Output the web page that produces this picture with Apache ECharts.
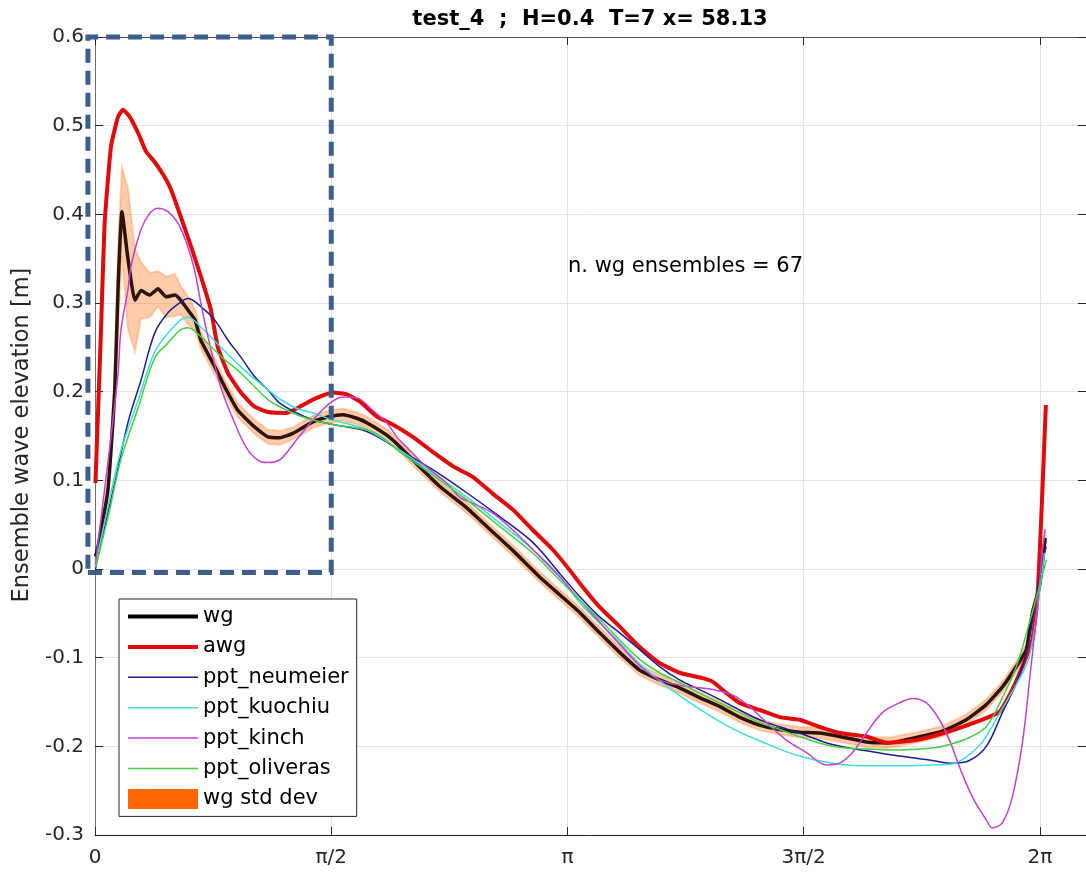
<!DOCTYPE html>
<html><head><meta charset="utf-8">
<script src="https://cdn.jsdelivr.net/npm/echarts@6/dist/echarts.min.js"></script>
<style>html,body{margin:0;padding:0;background:#fff}#c{width:1086px;height:873px}</style>
</head><body><div id="c"></div>
<script>
// ---- data (x in radians of phase, y in metres) ----
const xWg = [0.003,0.02,0.086,0.131,0.153,0.179,0.219,0.266,0.306,0.365,0.419,0.472,0.532,0.571,0.618,0.665,0.704,0.797,0.864,0.950,1.063,1.150,1.229,1.316,1.449,1.562,1.648,1.741,1.807,1.940,2.027,2.160,2.293,2.472,2.605,2.778,2.957,3.090,3.223,3.356,3.489,3.622,3.754,3.887,4.020,4.153,4.286,4.419,4.552,4.685,4.818,4.951,5.130,5.283,5.462,5.635,5.794,5.927,6.034,6.127,6.193,6.233,6.280,6.319];
const yWg = [0.014,0.025,0.089,0.200,0.315,0.403,0.350,0.303,0.314,0.309,0.316,0.307,0.309,0.303,0.292,0.281,0.258,0.228,0.205,0.179,0.160,0.149,0.148,0.153,0.166,0.172,0.174,0.170,0.165,0.151,0.138,0.115,0.093,0.069,0.048,0.021,-0.009,-0.029,-0.049,-0.072,-0.094,-0.114,-0.125,-0.134,-0.145,-0.155,-0.167,-0.176,-0.181,-0.184,-0.185,-0.189,-0.195,-0.196,-0.190,-0.183,-0.170,-0.153,-0.133,-0.110,-0.091,-0.050,-0.020,0.035];
const sdWg = [0.003,0.005,0.010,0.020,0.050,0.050,0.080,0.058,0.032,0.025,0.020,0.023,0.024,0.016,0.016,0.012,0.010,0.009,0.008,0.008,0.008,0.008,0.008,0.007,0.007,0.007,0.007,0.007,0.007,0.007,0.006,0.006,0.006,0.006,0.006,0.006,0.006,0.006,0.006,0.006,0.006,0.006,0.006,0.006,0.006,0.006,0.006,0.006,0.006,0.006,0.006,0.006,0.006,0.006,0.006,0.006,0.006,0.006,0.006,0.006,0.006,0.006,0.006,0.006];

const xAwg = [0.003,0.040,0.064,0.106,0.153,0.186,0.231,0.286,0.339,0.397,0.463,0.505,0.571,0.638,0.704,0.771,0.817,0.884,0.970,1.061,1.150,1.276,1.362,1.449,1.582,1.675,1.761,1.874,1.980,2.113,2.246,2.379,2.512,2.645,2.778,2.911,3.043,3.156,3.223,3.356,3.489,3.622,3.754,3.887,4.040,4.107,4.200,4.286,4.419,4.552,4.685,4.818,4.951,5.130,5.263,5.462,5.682,5.901,6.014,6.100,6.167,6.233,6.266,6.293,6.323];
const yAwg = [0.097,0.270,0.390,0.476,0.510,0.518,0.510,0.492,0.471,0.459,0.442,0.428,0.397,0.364,0.330,0.292,0.250,0.221,0.199,0.183,0.177,0.176,0.183,0.191,0.199,0.197,0.189,0.172,0.163,0.149,0.132,0.116,0.104,0.085,0.067,0.044,0.022,-0.001,-0.016,-0.043,-0.065,-0.088,-0.106,-0.117,-0.123,-0.127,-0.140,-0.151,-0.159,-0.167,-0.170,-0.178,-0.185,-0.189,-0.196,-0.193,-0.183,-0.170,-0.161,-0.136,-0.110,-0.080,-0.035,0.060,0.185];

const xNeu = [0.003,0.020,0.131,0.219,0.306,0.397,0.485,0.571,0.618,0.704,0.795,0.884,0.970,1.061,1.150,1.229,1.342,1.449,1.582,1.807,2.027,2.246,2.472,2.691,2.911,3.090,3.223,3.356,3.489,3.622,3.754,3.887,4.020,4.153,4.286,4.419,4.552,4.685,4.904,5.130,5.349,5.569,5.701,5.814,5.927,6.034,6.127,6.193,6.260,6.300,6.326];
const yNeu = [0.000,0.014,0.097,0.165,0.213,0.266,0.289,0.301,0.305,0.296,0.281,0.258,0.239,0.217,0.202,0.187,0.176,0.168,0.163,0.155,0.134,0.112,0.086,0.059,0.030,-0.005,-0.031,-0.054,-0.072,-0.091,-0.110,-0.125,-0.136,-0.147,-0.159,-0.170,-0.178,-0.185,-0.198,-0.205,-0.211,-0.216,-0.219,-0.216,-0.200,-0.162,-0.128,-0.095,-0.031,0.010,0.025];

const xKuo = [0.003,0.086,0.173,0.286,0.397,0.485,0.571,0.618,0.704,0.837,0.970,1.150,1.229,1.342,1.449,1.582,1.807,2.027,2.246,2.472,2.691,2.911,3.090,3.223,3.356,3.489,3.622,3.801,4.020,4.239,4.465,4.685,4.904,5.130,5.349,5.569,5.701,5.794,5.901,6.014,6.127,6.213,6.293,6.313];
const yKuo = [0.005,0.070,0.134,0.190,0.245,0.266,0.281,0.284,0.273,0.250,0.228,0.202,0.192,0.181,0.176,0.168,0.157,0.134,0.108,0.081,0.052,0.022,-0.008,-0.038,-0.061,-0.083,-0.107,-0.132,-0.158,-0.180,-0.197,-0.211,-0.219,-0.222,-0.222,-0.221,-0.220,-0.212,-0.195,-0.163,-0.130,-0.099,-0.010,0.018];

const xKin = [0.003,0.020,0.086,0.153,0.173,0.219,0.239,0.306,0.363,0.419,0.485,0.552,0.618,0.662,0.704,0.751,0.837,0.928,1.017,1.103,1.150,1.229,1.342,1.449,1.562,1.648,1.741,1.847,1.940,2.007,2.093,2.206,2.339,2.425,2.512,2.645,2.778,2.911,3.090,3.223,3.356,3.489,3.641,3.754,3.887,4.020,4.107,4.239,4.352,4.465,4.598,4.731,4.864,4.951,5.037,5.130,5.236,5.349,5.436,5.529,5.615,5.682,5.748,5.834,5.927,5.967,6.034,6.100,6.167,6.213,6.266,6.300,6.319];
const yKin = [0.003,0.030,0.120,0.220,0.270,0.315,0.341,0.383,0.401,0.407,0.403,0.390,0.363,0.337,0.300,0.262,0.205,0.165,0.134,0.121,0.120,0.123,0.146,0.168,0.187,0.194,0.193,0.179,0.165,0.149,0.134,0.115,0.097,0.081,0.074,0.063,0.044,0.022,-0.009,-0.035,-0.060,-0.085,-0.112,-0.125,-0.131,-0.134,-0.136,-0.142,-0.155,-0.173,-0.193,-0.207,-0.221,-0.219,-0.207,-0.185,-0.162,-0.151,-0.146,-0.151,-0.170,-0.193,-0.223,-0.257,-0.283,-0.292,-0.286,-0.257,-0.196,-0.128,-0.043,0.020,0.045];

const xOli = [0.003,0.086,0.173,0.286,0.397,0.485,0.571,0.618,0.704,0.837,0.970,1.150,1.229,1.342,1.449,1.582,1.807,1.914,2.027,2.246,2.472,2.691,2.911,3.070,3.223,3.356,3.489,3.622,3.754,3.887,4.020,4.153,4.286,4.419,4.552,4.685,4.904,5.130,5.349,5.569,5.701,5.814,5.927,6.034,6.127,6.213,6.280,6.326];
const yOli = [0.002,0.058,0.124,0.181,0.238,0.255,0.270,0.272,0.262,0.240,0.221,0.191,0.183,0.174,0.168,0.163,0.157,0.148,0.132,0.106,0.078,0.048,0.018,-0.009,-0.035,-0.057,-0.080,-0.102,-0.117,-0.128,-0.140,-0.151,-0.162,-0.173,-0.181,-0.189,-0.200,-0.203,-0.204,-0.202,-0.197,-0.190,-0.178,-0.145,-0.110,-0.061,-0.020,0.010];

const xTickLabels = ['0','\u03c0/2','\u03c0','3\u03c0/2','2\u03c0'];
const boxX = [-0.047, 1.571, 1.571, -0.047, -0.047];
const boxY = [-0.004, -0.004, 0.6, 0.6, -0.004];
const titleText = 'test_4  ;  H=0.4  T=7 x= 58.13';
const noteText = 'n. wg ensembles = 67';
const yName = 'Ensemble wave elevation [m]';

// ---- build ----
const pairs = (xs, ys) => xs.map((x, i) => [x, ys[i]]);
const FONT = 'DejaVu Sans';
const HALF = Math.PI / 2;

const chart = echarts.init(document.getElementById('c'), null, {renderer: 'canvas'});
const axisCommon = {
  type: 'value', min: 0, max: 6.59, interval: HALF,
  axisLine: {show: true, onZero: false, lineStyle: {color: '#262626', width: 1}},
  axisTick: {show: true, inside: true, length: 8, lineStyle: {color: '#262626'}},
  splitLine: {show: false}
};
const yCommon = {
  type: 'value', min: -0.3, max: 0.6, interval: 0.1,
  axisLine: {show: true, onZero: false, lineStyle: {color: '#262626', width: 1}},
  axisTick: {show: true, inside: true, length: 8, lineStyle: {color: '#262626'}},
  splitLine: {show: false}
};
const thin = (name, xs, ys, color) => ({
  name, type: 'line', data: pairs(xs, ys), showSymbol: false, symbol: 'none', smooth: 0.35,
  lineStyle: {color, width: 1.5}, itemStyle: {color}, z: 4
});

chart.setOption({
  animation: false,
  backgroundColor: '#fff',
  textStyle: {fontFamily: FONT},
  grid: {left: 95, right: -1, top: 37, bottom: 38, containLabel: false},
  xAxis: [
    Object.assign({}, axisCommon, {
      position: 'bottom',
      splitLine: {show: true, lineStyle: {color: '#e3e3e3', width: 1}},
      axisLabel: {show: true, margin: 13, fontSize: 20, color: '#262626', fontFamily: FONT,
        showMaxLabel: false,
        formatter: v => { const k = Math.round(v / HALF); return Math.abs(v - k * HALF) < 1e-6 ? (xTickLabels[k] || '') : ''; }}
    }),
    Object.assign({}, axisCommon, {position: 'top', axisLine: {show: true, onZero: false, lineStyle: {color: '#505050', width: 1}}, axisLabel: {show: false}})
  ],
  yAxis: [
    Object.assign({}, yCommon, {
      position: 'left',
      axisLine: {show: true, onZero: false, lineStyle: {color: '#707070', width: 1}},
      splitLine: {show: true, lineStyle: {color: '#e3e3e3', width: 1}},
      axisLabel: {show: true, margin: 11, fontSize: 20, color: '#262626', fontFamily: FONT,
        formatter: v => Math.abs(v) < 1e-9 ? '0' : v.toFixed(1)}
    }),
    Object.assign({}, yCommon, {position: 'right', axisLabel: {show: false}})
  ],
  legend: {
    orient: 'vertical', left: 119, top: 599,
    padding: [7, 8, 7, 7], itemGap: 9.4, itemWidth: 70, itemHeight: 20,
    backgroundColor: '#fff', borderColor: '#262626', borderWidth: 1, borderRadius: 0,
    textStyle: {fontSize: 21, color: '#000', fontFamily: FONT},
    itemStyle: {opacity: 0},
    data: [
      {name: 'wg', lineStyle: {color: '#000', width: 4}},
      {name: 'awg', lineStyle: {color: '#e00a0a', width: 4}},
      {name: 'ppt_neumeier', lineStyle: {width: 1.5}},
      {name: 'ppt_kuochiu', lineStyle: {width: 1.5}},
      {name: 'ppt_kinch', lineStyle: {width: 1.5}},
      {name: 'ppt_oliveras', lineStyle: {width: 1.5}},
      {name: 'wg std dev', icon: 'rect', itemStyle: {color: '#ff6600', opacity: 1}}
    ]
  },
  graphic: [
    {type: 'text', x: 590, y: 20, style: {text: titleText, fontSize: 21, fontWeight: 'bold', fill: '#000', fontFamily: FONT, align: 'center', verticalAlign: 'middle'}, z: 10},
    {type: 'text', x: 568, y: 267, style: {text: noteText, fontSize: 21, fill: '#000', fontFamily: FONT, verticalAlign: 'middle'}, z: 10},
    {type: 'text', x: 22, y: 435, rotation: Math.PI / 2, style: {text: yName, fontSize: 22.5, fill: '#262626', fontFamily: FONT, align: 'center', verticalAlign: 'middle'}, z: 10}
  ],
  series: [
    {name: 'wg std dev', type: 'custom', silent: true, z: 1,
      data: pairs(xWg, yWg), encode: {x: 0, y: 1},
      itemStyle: {color: '#ff6600'},
      renderItem: (params, api) => {
        if (params.dataIndex !== 0) return null;
        const up = xWg.map((x, i) => api.coord([x, yWg[i] + sdWg[i]]));
        const lo = xWg.map((x, i) => api.coord([x, yWg[i] - sdWg[i]])).reverse();
        return {type: 'polygon', shape: {points: up.concat(lo)},
          style: {fill: 'rgba(255,110,20,0.36)', stroke: 'rgba(255,110,20,0.25)', lineWidth: 2}};
      }},
    {name: 'wg', type: 'line', data: pairs(xWg, yWg), showSymbol: false, symbol: 'none', smooth: 0.15,
      lineStyle: {color: '#2e1204', width: 3.5}, itemStyle: {color: '#000'}, z: 3},
    {name: 'awg', type: 'line', data: pairs(xAwg, yAwg), showSymbol: false, symbol: 'none', smooth: 0.15,
      lineStyle: {color: '#e00a0a', width: 4}, itemStyle: {color: '#e00a0a'}, z: 3},
    thin('ppt_neumeier', xNeu, yNeu, '#1c1c96'),
    thin('ppt_kuochiu', xKuo, yKuo, '#3fdede'),
    thin('ppt_kinch', xKin, yKin, '#c440d4'),
    thin('ppt_oliveras', xOli, yOli, '#44d044')
  ]
});

// dashed annotation box, placed in data coordinates through the grid's own scales
const boxPts = boxX.map((x, i) => chart.convertToPixel({gridIndex: 0}, [x, boxY[i]]));
chart.setOption({
  graphic: [
    {type: 'text', x: 590, y: 20, style: {text: titleText, fontSize: 21, fontWeight: 'bold', fill: '#000', fontFamily: FONT, align: 'center', verticalAlign: 'middle'}, z: 10},
    {type: 'text', x: 568, y: 267, style: {text: noteText, fontSize: 21, fill: '#000', fontFamily: FONT, verticalAlign: 'middle'}, z: 10},
    {type: 'text', x: 22, y: 435, rotation: Math.PI / 2, style: {text: yName, fontSize: 22.5, fill: '#262626', fontFamily: FONT, align: 'center', verticalAlign: 'middle'}, z: 10},
    {type: 'polyline', shape: {points: boxPts}, z: 20,
      style: {stroke: '#3b5e8c', lineWidth: 5, lineDash: [14, 8], fill: null}}
  ]
}, {replaceMerge: ['graphic']});
</script>
</body></html>
